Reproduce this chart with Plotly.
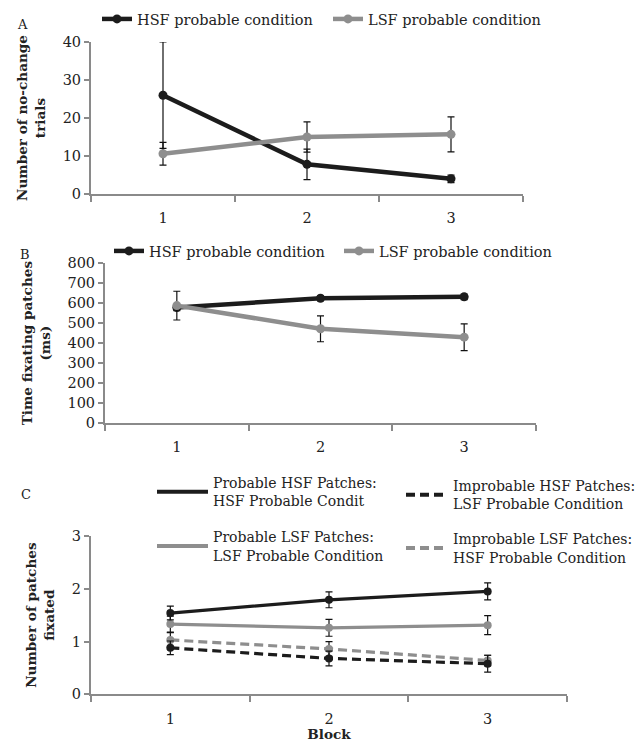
import plotly.graph_objects as go

blocks = [1, 2, 3]
block_labels = ["1", "2", "3"]

# Panel A: number of no-change trials
a_hsf = [26.0, 7.8, 4.0]
a_hsf_err = [14.0, 4.0, 1.0]
a_lsf = [10.6, 15.0, 15.7]
a_lsf_err = [3.0, 4.0, 4.6]

# Panel B: time fixating patches (ms)
b_hsf = [578, 625, 632]
b_hsf_err = [15, 12, 14]
b_lsf = [588, 472, 430]
b_lsf_err = [72, 65, 67]

# Panel C: number of patches fixated
c_prob_hsf = [1.54, 1.79, 1.95]
c_prob_hsf_err = [0.13, 0.15, 0.16]
c_prob_lsf = [1.33, 1.26, 1.31]
c_prob_lsf_err = [0.15, 0.16, 0.18]
c_improb_hsf = [0.88, 0.68, 0.58]
c_improb_hsf_err = [0.13, 0.14, 0.16]
c_improb_lsf = [1.03, 0.86, 0.64]
c_improb_lsf_err = [0.14, 0.14, 0.10]

BLACK = "#1c1c1c"
GRAY = "#8e8e8e"
AXIS = "#8a8a8a"
FONT = "DejaVu Serif"
W, H = 638, 742


def px(x):
    return x / W


def py(y):
    return 1 - y / H


fig = go.Figure()


def err(arr):
    return dict(type="data", array=arr, visible=True, color="#111111", thickness=1.2, width=3.5)


# Panel A
fig.add_trace(go.Scatter(x=blocks, y=a_hsf, error_y=err(a_hsf_err), mode="lines+markers",
                         name="HSF probable condition", line=dict(color=BLACK, width=4.5),
                         marker=dict(color=BLACK, size=9), xaxis="x", yaxis="y", legend="legend"))
fig.add_trace(go.Scatter(x=blocks, y=a_lsf, error_y=err(a_lsf_err), mode="lines+markers",
                         name="LSF probable condition", line=dict(color=GRAY, width=4.5),
                         marker=dict(color=GRAY, size=9), xaxis="x", yaxis="y", legend="legend"))
# Panel B
fig.add_trace(go.Scatter(x=blocks, y=b_hsf, error_y=err(b_hsf_err), mode="lines+markers",
                         name="HSF probable condition", line=dict(color=BLACK, width=4.5),
                         marker=dict(color=BLACK, size=9), xaxis="x2", yaxis="y2", legend="legend2"))
fig.add_trace(go.Scatter(x=blocks, y=b_lsf, error_y=err(b_lsf_err), mode="lines+markers",
                         name="LSF probable condition", line=dict(color=GRAY, width=4.5),
                         marker=dict(color=GRAY, size=9), xaxis="x2", yaxis="y2", legend="legend2"))

# Panel C
c_series = [
    ("Probable HSF Patches:<br>HSF Probable Condit", c_prob_hsf, c_prob_hsf_err, BLACK, "solid", "legend3"),
    ("Probable LSF Patches:<br>LSF Probable Condition", c_prob_lsf, c_prob_lsf_err, GRAY, "solid", "legend3"),
    ("Improbable HSF Patches:<br>LSF Probable Condition", c_improb_hsf, c_improb_hsf_err, BLACK, "9px,5px", "legend4"),
    ("Improbable LSF Patches:<br>HSF Probable Condition", c_improb_lsf, c_improb_lsf_err, GRAY, "9px,5px", "legend4"),
]
for name, vals, e, col, dash, lg in [c_series[1], c_series[3], c_series[0], c_series[2]]:
    fig.add_trace(go.Scatter(x=blocks, y=vals, error_y=err(e), mode="lines+markers",
                             line=dict(color=col, width=3.2, dash=dash),
                             marker=dict(color=col, size=8), showlegend=False,
                             xaxis="x3", yaxis="y3"))
for i, (name, vals, e, col, dash, lg) in enumerate(c_series):
    fig.add_trace(go.Scatter(x=[None], y=[None], mode="lines", name=name, legendgroup="g%d" % i,
                             line=dict(color=col, width=4, dash=dash),
                             xaxis="x3", yaxis="y3", legend=lg))

tickfont = dict(family=FONT, size=14.5, color="#222222")
titlefont = dict(family=FONT, size=13.6, color="#222222", weight=700)


def xaxis(domain, anchor, title=None):
    d = dict(domain=domain, anchor=anchor, range=[0.5, 3.5], tickvals=blocks, ticktext=block_labels,
             ticks="", showline=True, linecolor=AXIS, linewidth=2, showgrid=False, zeroline=False,
             tickfont=tickfont, ticklabelstandoff=10,
             minor=dict(tickmode="array", tickvals=[0.5, 1.5, 2.5, 3.5], ticks="outside",
                        ticklen=6, tickcolor=AXIS, tickwidth=1.5, showgrid=False))
    if title:
        d["title"] = dict(text=title, font=titlefont, standoff=2)
    return d


def yaxis(domain, anchor, rng, dtick, title):
    return dict(domain=domain, anchor=anchor, range=rng, dtick=dtick, ticks="outside", ticklen=5,
                tickcolor=AXIS, tickwidth=1.5, showline=True, linecolor=AXIS, linewidth=2,
                showgrid=False, zeroline=False, tickfont=tickfont, automargin=False,
                title=dict(text=title, font=titlefont, standoff=14))


legend_font = dict(family=FONT, size=14.5, color="#222222")
legend_font_c = dict(family=FONT, size=14, color="#222222")

fig.update_layout(
    width=W, height=H, margin=dict(l=0, r=0, t=0, b=0, autoexpand=False),
    paper_bgcolor="white", plot_bgcolor="white",
    xaxis=xaxis([px(91), px(523)], "y"),
    yaxis=yaxis([py(194), py(42)], "x", [0, 40], 10, "Number of no-change<br>trials"),
    xaxis2=xaxis([px(105), px(536)], "y2"),
    yaxis2=yaxis([py(423), py(263.3)], "x2", [0, 800], 100, "Time fixating patches<br>(ms)"),
    xaxis3=xaxis([px(91), px(567)], "y3", "Block"),
    yaxis3=yaxis([py(694.3), py(536)], "x3", [0, 3], 1, "Number of patches<br>fixated"),
    legend=dict(orientation="h", x=px(97), y=py(3), xanchor="left", yanchor="top",
                font=legend_font, bgcolor="rgba(0,0,0,0)", itemwidth=30,
                entrywidth=186, entrywidthmode="pixels"),
    legend2=dict(orientation="h", x=px(109), y=py(235), xanchor="left", yanchor="top",
                 font=legend_font, bgcolor="rgba(0,0,0,0)", itemwidth=30,
                 entrywidth=185, entrywidthmode="pixels"),
    legend3=dict(orientation="v", x=px(152), y=py(467), xanchor="left", yanchor="top",
                 font=legend_font_c, bgcolor="rgba(0,0,0,0)", itemwidth=51, tracegroupgap=15),
    legend4=dict(orientation="v", x=px(401), y=py(470), xanchor="left", yanchor="top",
                 font=legend_font_c, bgcolor="rgba(0,0,0,0)", itemwidth=42, tracegroupgap=14),
    annotations=[
        dict(text="A", x=px(15), y=py(15), xref="paper", yref="paper", showarrow=False,
             font=dict(family=FONT, size=13, color="#222222")),
        dict(text="B", x=px(18), y=py(245), xref="paper", yref="paper", showarrow=False,
             font=dict(family=FONT, size=13, color="#222222")),
        dict(text="C", x=px(19), y=py(504), xref="paper", yref="paper", showarrow=False,
             font=dict(family=FONT, size=13, color="#222222")),
    ],
)

fig.write_html("out.html", config={"displayModeBar": False},
               post_script="document.body.style.margin='0';document.body.style.overflow='hidden';")
